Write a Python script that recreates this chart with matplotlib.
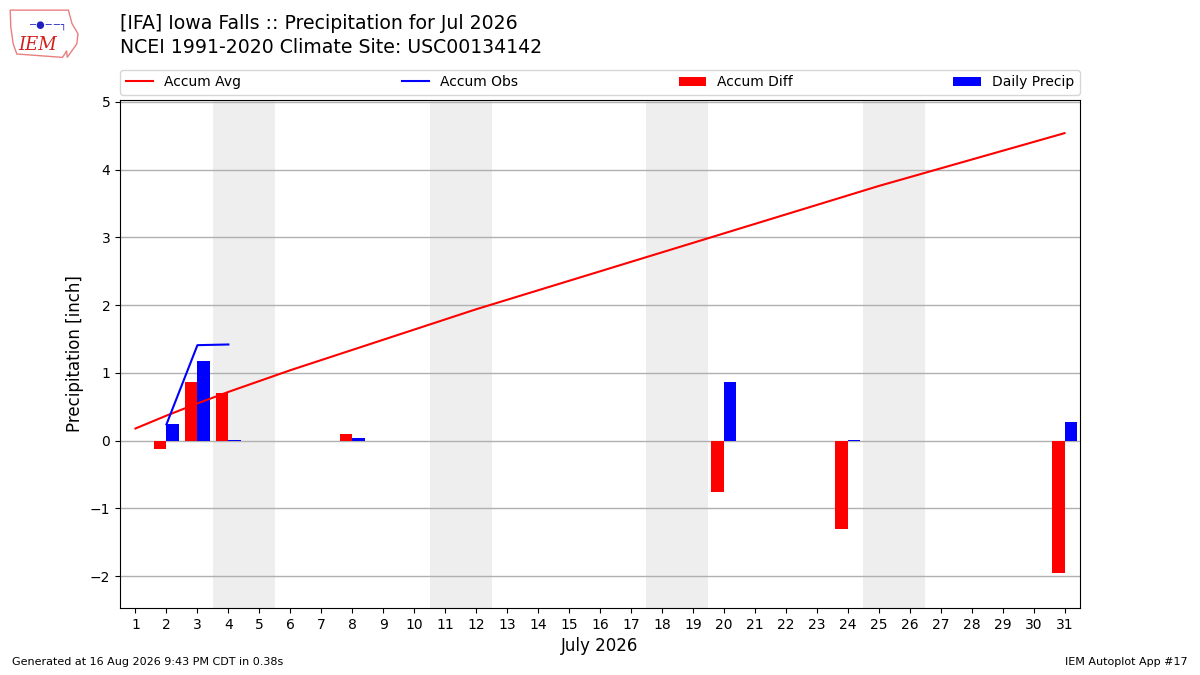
import matplotlib
matplotlib.use("Agg")
import matplotlib.pyplot as plt
from matplotlib.patches import Polygon
import numpy as np

days = list(range(1, 32))
accum_avg = [0.18, 0.37, 0.55, 0.72, 0.88, 1.04, 1.19, 1.34, 1.49, 1.64,
             1.79, 1.94, 2.08, 2.22, 2.36, 2.50, 2.64, 2.78, 2.92, 3.06,
             3.20, 3.34, 3.48, 3.62, 3.76, 3.89, 4.02, 4.15, 4.28, 4.41, 4.54]
obs_days = [2, 3, 4]
accum_obs = [0.24, 1.41, 1.42]
bar_days = [2, 3, 4, 8, 20, 24, 31]
accum_diff = [-0.13, 0.86, 0.70, 0.10, -0.76, -1.31, -1.96]
daily_precip = [0.24, 1.17, 0.01, 0.04, 0.86, 0.01, 0.28]
weekends = [(3.5, 5.5), (10.5, 12.5), (17.5, 19.5), (24.5, 26.5)]

title = "[IFA] Iowa Falls :: Precipitation for Jul 2026\nNCEI 1991-2020 Climate Site: USC00134142"

fig = plt.figure(figsize=(12, 6.75), dpi=100)
ax = fig.add_axes([0.1, 0.0993, 0.8, 0.7526])

for a, b in weekends:
    ax.axvspan(a, b, color="#eeeeee", zorder=0, lw=0)

ax.plot(days, accum_avg, color="r", lw=1.5, label="Accum Avg", zorder=3)
ax.plot(obs_days, accum_obs, color="b", lw=1.5, label="Accum Obs", zorder=3)
bx = np.array(bar_days, dtype=float)
ax.bar(bx, accum_diff, width=-0.4, align="edge", color="r", label="Accum Diff", zorder=2)
ax.bar(bx, daily_precip, width=0.4, align="edge", color="b", label="Daily Precip", zorder=2)

ax.set_xlim(0.5, 31.5)
ax.set_ylim(-2.47, 5.03)
ax.set_xticks(days)
ax.set_yticks(range(-2, 6))
ax.yaxis.grid(True, color="#b0b0b0", lw=1)
ax.set_axisbelow(True)
ax.set_xlabel("July 2026", fontsize=12)
ax.set_ylabel("Precipitation [inch]", fontsize=12)
ax.tick_params(labelsize=10)

ax.legend(loc="lower left", bbox_to_anchor=(0, 1.01, 1, 0.05), mode="expand",
          ncol=4, fontsize=10, borderaxespad=0, handlelength=2)

fig.text(0.1, 0.947, title, fontsize=13.6, ha="left", va="center", linespacing=1.35)

# IEM logo (simplified Iowa outline)
outline = Polygon([[0.0085, 0.985], [0.0570, 0.985], [0.0600, 0.965], [0.0650, 0.950],
                   [0.0640, 0.935], [0.0600, 0.925], [0.0560, 0.915], [0.0555, 0.925],
                   [0.0540, 0.920], [0.0520, 0.915], [0.0140, 0.920], [0.0110, 0.935],
                   [0.0090, 0.960]], closed=True, fill=False,
                  edgecolor="#e88080", lw=1, transform=fig.transFigure)
fig.patches.append(outline)
fig.text(0.031, 0.933, "IEM", color="#d02020", fontsize=13, family="serif",
         style="italic", ha="center", va="center")
fig.text(0.040, 0.962, "\u2212\u25cf\u2212\u2212\u2510", color="#2020c0", fontsize=7,
         ha="center", va="center")

fig.text(0.01, 0.015, "Generated at 16 Aug 2026 9:43 PM CDT in 0.38s", fontsize=8, ha="left")
fig.text(0.99, 0.015, "IEM Autoplot App #17", fontsize=8, ha="right")

fig.savefig("out.png", dpi=100)
